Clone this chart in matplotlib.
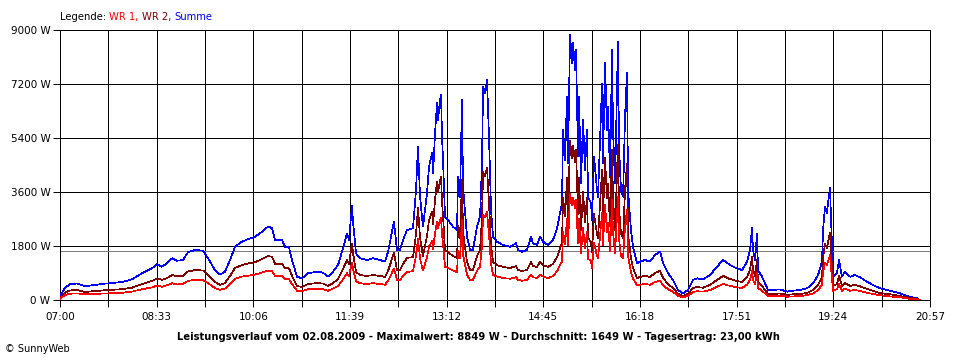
import matplotlib
matplotlib.use("Agg")
import matplotlib.pyplot as plt
import numpy as np

# minutes after 07:00
minutes = [
    0, 1.0, 4.8, 9.6, 16.4, 24.1, 30.8, 43.3, 59.7, 69.3,
    78.9, 88.5, 93.3, 98.1, 102.9, 107.8, 112.6, 118.3, 123.1, 129.9,
    137.6, 142.4, 149.1, 153.9, 158.7, 163.6, 168.4, 175.1, 180.9, 186.6,
    192.4, 200.1, 204.0, 206.9, 213.6, 216.5, 220.3, 223.2, 228.0, 232.8,
    238.6, 247.3, 253.0, 257.8, 262.7, 267.5, 272.3, 276.1, 278.0, 280.9,
    281.9, 284.8, 288.6, 295.4, 301.1, 307.9, 312.7, 315.6, 319.4, 321.3,
    324.2, 327.1, 330.0, 333.8, 339.6, 342.5, 344.4, 346.4, 349.2, 353.1,
    355.0, 357.9, 358.9, 360.8, 362.7, 363.7, 365.6, 366.6, 367.5, 368.5,
    370.4, 373.3, 378.1, 382.0, 382.9, 384.8, 386.8, 387.7, 391.6, 394.5,
    397.3, 401.2, 404.1, 406.0, 407.0, 408.9, 410.8, 412.7, 414.7, 416.6,
    420.4, 426.2, 432.9, 438.7, 440.6, 444.5, 449.3, 453.1, 455.1, 458.9,
    461.8, 464.7, 469.5, 474.3, 478.2, 481.0, 483.0, 483.9, 485.9, 487.8,
    488.7, 490.7, 492.6, 493.6, 495.5, 496.4, 498.4, 499.3, 501.2, 503.2,
    505.1, 507.0, 508.0, 510.9, 511.8, 513.8, 516.6, 517.6, 521.5, 522.4,
    524.3, 526.3, 527.2, 529.2, 531.1, 532.0, 534.0, 536.8, 537.8, 539.7,
    541.7, 543.6, 545.5, 546.5, 549.3, 551.3, 555.1, 558.0, 562.8, 567.6,
    572.5, 577.3, 580.2, 585.0, 589.8, 594.6, 599.4, 604.2, 609.0, 612.9,
    618.6, 625.4, 632.1, 637.9, 644.6, 651.3, 656.2, 661.0, 663.8, 665.8,
    666.7, 668.7, 670.6, 671.5, 675.4, 678.3, 681.2, 686.0, 692.7, 699.5,
    705.2, 712.0, 718.7, 724.5, 729.3, 733.1, 734.1, 736.0, 737.9, 738.9,
    740.8, 742.7, 743.7, 747.5, 749.5, 752.3, 755.2, 760.1, 764.9, 769.7,
    776.4, 782.2, 788.9, 798.5, 808.2, 814.9, 824.5, 827.4,
]

summe = [
    100, 190, 400, 530, 550, 460, 490, 545, 600, 690,
    890, 1055, 1200, 1110, 1220, 1390, 1310, 1333, 1590, 1667,
    1645, 1390, 1000, 845, 945, 1333, 1777, 1945, 2030, 2090,
    2220, 2445, 2400, 2000, 2000, 1777, 1755, 1333, 777, 722,
    890, 945, 910, 777, 945, 1167, 1722, 2220, 2000, 3133,
    2610, 1555, 1390, 1333, 1390, 1333, 1278, 1610, 2277, 2610,
    1667, 1667, 2000, 2333, 2390, 3667, 5110, 3443, 2445, 3557,
    4443, 4890, 4223, 5557, 6557, 6000, 6667, 6833, 5443, 4667,
    2777, 2667, 2445, 2333, 4110, 3443, 6667, 3777, 2110, 1667,
    1667, 2445, 2777, 4557, 7110, 6890, 7333, 5443, 3000, 2110,
    1945, 1833, 1777, 1890, 1667, 1610, 1667, 2110, 1890, 1833,
    2110, 1945, 1833, 2000, 2390, 2890, 3223, 5667, 4667, 6777,
    4557, 8849, 7890, 8557, 7667, 8333, 4777, 6777, 3890, 6000,
    4333, 5667, 3443, 3223, 2667, 4777, 3667, 3443, 7223, 4557,
    7890, 5667, 6443, 4110, 8333, 5667, 3890, 8610, 5110, 3667,
    3443, 6110, 7557, 3667, 2333, 1777, 1222, 1278, 1333, 1278,
    1500, 1610, 1222, 890, 667, 333, 222, 333, 667, 722,
    690, 833, 1110, 1333, 1167, 1055, 1000, 1278, 1667, 2390,
    1667, 1333, 2220, 1000, 777, 555, 333, 333, 355, 278,
    310, 333, 390, 555, 833, 1278, 2333, 3110, 2890, 3223,
    3723, 1777, 777, 890, 1333, 777, 945, 777, 833, 755,
    610, 500, 390, 310, 222, 133, 55, 0,
]

wr1 = [
    40, 80, 160, 210, 220, 190, 200, 220, 240, 280,
    360, 420, 480, 440, 490, 560, 520, 530, 640, 670,
    660, 560, 400, 340, 380, 530, 710, 780, 810, 840,
    890, 980, 960, 800, 800, 710, 700, 530, 310, 290,
    360, 380, 360, 310, 380, 470, 690, 890, 800, 1250,
    1040, 620, 560, 530, 560, 530, 510, 640, 910, 1040,
    670, 670, 800, 930, 960, 1470, 2040, 1380, 980, 1420,
    1780, 1960, 1690, 2220, 2620, 2400, 2670, 2730, 2180, 1870,
    1110, 1070, 980, 930, 1640, 1380, 2670, 1510, 840, 670,
    670, 980, 1110, 1820, 2840, 2760, 2930, 2180, 1200, 840,
    780, 730, 710, 760, 670, 640, 670, 840, 760, 730,
    840, 780, 730, 800, 960, 1160, 1290, 2270, 1870, 2710,
    1820, 3540, 3160, 3420, 3070, 3330, 1910, 2710, 1560, 2400,
    1730, 2270, 1380, 1290, 1070, 1910, 1470, 1380, 2890, 1820,
    3160, 2270, 2580, 1640, 3330, 2270, 1560, 3440, 2040, 1470,
    1380, 2440, 3020, 1470, 930, 710, 490, 510, 530, 510,
    600, 640, 490, 360, 270, 130, 90, 130, 270, 290,
    280, 330, 440, 530, 470, 420, 400, 510, 670, 960,
    670, 530, 890, 400, 310, 220, 130, 130, 140, 110,
    120, 130, 160, 220, 330, 510, 930, 1240, 1160, 1290,
    1490, 710, 310, 360, 530, 310, 380, 310, 330, 300,
    240, 200, 160, 120, 90, 50, 20, 0,
]

wr2 = [
    60, 110, 240, 320, 330, 270, 290, 325, 360, 410,
    530, 635, 720, 670, 730, 830, 790, 803, 950, 997,
    985, 830, 600, 505, 565, 803, 1067, 1165, 1220, 1250,
    1330, 1465, 1440, 1200, 1200, 1067, 1055, 803, 467, 432,
    530, 565, 550, 467, 565, 697, 1032, 1330, 1200, 1883,
    1570, 935, 830, 803, 830, 803, 768, 970, 1367, 1570,
    997, 997, 1200, 1403, 1430, 2197, 3070, 2063, 1465, 2137,
    2663, 2930, 2533, 3337, 3937, 3600, 3997, 4103, 3263, 2797,
    1667, 1597, 1465, 1403, 2470, 2063, 3997, 2267, 1270, 997,
    997, 1465, 1667, 2737, 4270, 4130, 4403, 3263, 1800, 1270,
    1165, 1103, 1067, 1130, 997, 970, 997, 1270, 1130, 1103,
    1270, 1165, 1103, 1200, 1430, 1730, 1933, 3397, 2797, 4067,
    2737, 5309, 4730, 5137, 4597, 5003, 2867, 4067, 2330, 3600,
    2603, 3397, 2063, 1933, 1597, 2867, 2197, 2063, 4333, 2737,
    4730, 3397, 3863, 2470, 5003, 3397, 2330, 5170, 3070, 2197,
    2063, 3670, 4537, 2197, 1403, 1067, 732, 768, 803, 768,
    900, 970, 732, 530, 397, 203, 132, 203, 397, 432,
    410, 503, 670, 803, 697, 635, 600, 768, 997, 1430,
    997, 803, 1330, 600, 467, 335, 203, 203, 215, 168,
    190, 203, 230, 335, 503, 768, 1403, 1870, 1730, 1933,
    2233, 1067, 467, 530, 803, 467, 565, 467, 503, 455,
    370, 300, 230, 190, 132, 83, 35, 0,
]

tick_labels = ["07:00", "08:33", "10:06", "11:39", "13:12",
               "14:45", "16:18", "17:51", "19:24", "20:57"]
y_ticks = [0, 1800, 3600, 5400, 7200, 9000]
average = 1649
title = ("Leistungsverlauf vom 02.08.2009 - Maximalwert: 8849 W - "
         "Durchschnitt: 1649 W - Tagesertrag: 23,00 kWh")

C_WR1 = "#ff0000"
C_WR2 = "#800000"
C_SUM = "#0000ff"
LW = 0.5

plt.rcParams["font.family"] = ["DejaVu Sans"]

fig = plt.figure(figsize=(9.6, 3.6), dpi=100)
ax = fig.add_axes([60 / 960, 60 / 360, 870 / 960, 270 / 360])

t = np.array(minutes)
ax.plot(t, summe, color=C_SUM, lw=LW, antialiased=False, zorder=3)
ax.plot(t, wr2, color=C_WR2, lw=LW, antialiased=False, zorder=4)
ax.plot(t, wr1, color=C_WR1, lw=LW, antialiased=False, zorder=5)

ax.axhline(average, color="#808080", lw=LW, antialiased=False, zorder=2)

ax.set_xlim(0, 837)
ax.set_ylim(0, 9000)

major_x = np.arange(len(tick_labels)) * 93
minor_x = np.arange(18) * 46.5
ax.set_xticks(major_x)
ax.set_xticklabels(tick_labels)
ax.set_xticks(minor_x, minor=True)
ax.set_yticks(y_ticks)
ax.set_yticklabels([f"{v} W" for v in y_ticks])

ax.tick_params(axis="both", which="both", direction="out", length=5,
               width=0.7, color="black", labelsize=7.5, pad=2)
ax.tick_params(axis="x", which="major", pad=4)
for v in minor_x:
    ax.axvline(v, color="black", lw=LW, antialiased=False, zorder=1)
for v in y_ticks:
    ax.axhline(v, color="black", lw=LW, antialiased=False, zorder=1)
for s in ax.spines.values():
    s.set_color("black")
    s.set_linewidth(LW)
    s.set_antialiased(False)

# legend text
parts = [("Legende: ", "black"), ("WR 1, ", C_WR1), ("WR 2, ", C_WR2), ("Summe", C_SUM)]
x0 = 60 / 960
renderer = fig.canvas.get_renderer()
for s, c in parts:
    txt = fig.text(x0, 1 - 17 / 360, s, color=c, fontsize=7.2, va="center", ha="left")
    bb = txt.get_window_extent(renderer=renderer)
    x0 += bb.width / 960

fig.text(478 / 960, 1 - 337 / 360, title, fontsize=7.2, fontweight="bold",
         ha="center", va="center")
fig.text(5 / 960, 1 - 349 / 360, "© SunnyWeb", fontsize=7, ha="left", va="center")

fig.savefig("out.png", dpi=100)
